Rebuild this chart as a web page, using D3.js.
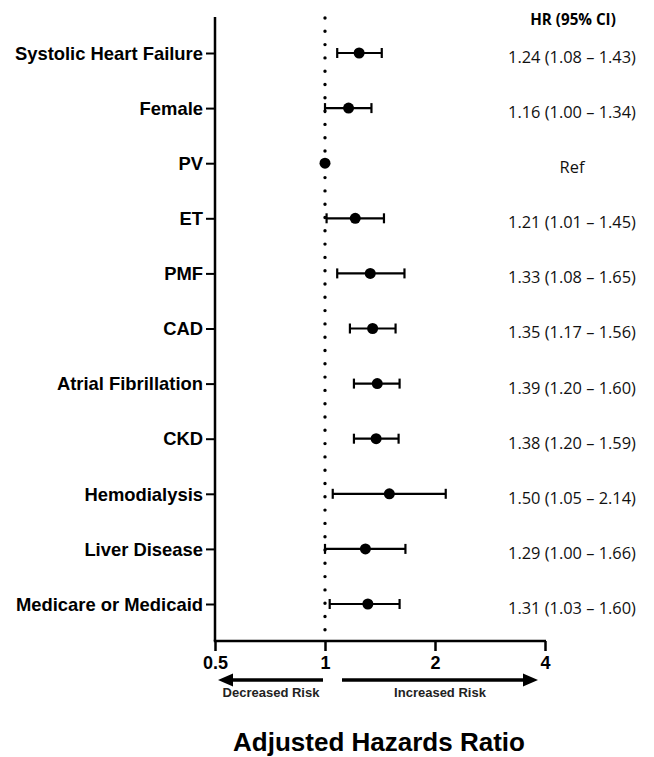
<!DOCTYPE html>
<html>
<head>
<meta charset="utf-8">
<script src="https://cdn.jsdelivr.net/npm/d3@7"></script>
<style>
  body { margin: 0; background: #fff; }
  svg { display: block; }
</style>
</head>
<body>
<div id="chart"></div>
<script>
// values
const categories = ["Systolic Heart Failure", "Female", "PV", "ET", "PMF", "CAD",
    "Atrial Fibrillation", "CKD", "Hemodialysis", "Liver Disease", "Medicare or Medicaid"]
const hr    = [1.24, 1.16, 1.00, 1.21, 1.33, 1.35, 1.39, 1.38, 1.50, 1.29, 1.31]
const lower = [1.08, 1.00, null, 1.01, 1.08, 1.17, 1.20, 1.20, 1.05, 1.00, 1.03]
const upper = [1.43, 1.34, null, 1.45, 1.65, 1.56, 1.60, 1.59, 2.14, 1.66, 1.60]
const hr_labels = ["1.24 (1.08 \u2013 1.43)", "1.16 (1.00 \u2013 1.34)", "Ref",
    "1.21 (1.01 \u2013 1.45)", "1.33 (1.08 \u2013 1.65)", "1.35 (1.17 \u2013 1.56)",
    "1.39 (1.20 \u2013 1.60)", "1.38 (1.20 \u2013 1.59)", "1.50 (1.05 \u2013 2.14)",
    "1.29 (1.00 \u2013 1.66)", "1.31 (1.03 \u2013 1.60)"]
const x_ticks = [0.5, 1, 2, 4]

const width = 654, height = 757
const axis_top = 17, axis_bottom = 641

const data = categories.map((c, i) => ({ cat: c, hr: hr[i], lo: lower[i], hi: upper[i], label: hr_labels[i] }))

const svg = d3.select('#chart')
    .append('svg')
    .attr('width', width)
    .attr('height', height)

const x = d3.scaleLog().base(2)
    .domain([0.5, 4])
    .range([215, 545])

const y = d3.scalePoint()
    .domain(categories)
    .range([53, 604])

// y axis
const yAxis = svg.append('g')
    .attr('transform', `translate(${x(0.5)},0)`)
    .call(d3.axisLeft(y).tickSize(9).tickPadding(3).tickSizeOuter(0))
yAxis.select('.domain').remove()
yAxis.selectAll('.tick line').attr('stroke', '#000').attr('stroke-width', 2)
yAxis.selectAll('.tick text')
    .attr('font-family', 'Liberation Sans, Arial, sans-serif')
    .attr('font-weight', 'bold')
    .attr('font-size', 18.4)
    .attr('fill', '#000')
    .attr('dy', '0.34em')
yAxis.append('line')
    .attr('x1', 0).attr('x2', 0)
    .attr('y1', axis_top).attr('y2', axis_bottom)
    .attr('stroke', '#000').attr('stroke-width', 2.5)

// x axis
const xAxis = svg.append('g')
    .attr('transform', `translate(0,${axis_bottom})`)
    .call(d3.axisBottom(x).tickValues(x_ticks).tickFormat(d3.format('')).tickSize(10).tickSizeOuter(0).tickPadding(5))
xAxis.select('.domain').attr('stroke', '#000').attr('stroke-width', 2.5)
    .attr('d', `M${x(0.5) - 1.25},0H${x(4) + 1}`)
xAxis.selectAll('.tick line').attr('stroke', '#000').attr('stroke-width', 2.5)
xAxis.selectAll('.tick text')
    .attr('font-family', 'Liberation Sans, Arial, sans-serif')
    .attr('font-weight', 'bold')
    .attr('font-size', 18)
    .attr('fill', '#000')

// dotted reference line at HR = 1
svg.append('line')
    .attr('x1', x(1)).attr('x2', x(1))
    .attr('y1', axis_top + 1).attr('y2', axis_bottom)
    .attr('stroke', '#000')
    .attr('stroke-width', 3.4)
    .attr('stroke-linecap', 'round')
    .attr('stroke-dasharray', '0 13.3')

// error bars
const bars = svg.append('g')
const withCI = data.filter(d => d.lo !== null)
bars.selectAll('line.ci')
    .data(withCI)
    .enter()
    .append('line')
    .attr('class', 'ci')
    .attr('x1', d => x(d.lo)).attr('x2', d => x(d.hi))
    .attr('y1', d => y(d.cat)).attr('y2', d => y(d.cat))
    .attr('stroke', '#000').attr('stroke-width', 2.2)
bars.selectAll('line.cap-lo')
    .data(withCI)
    .enter()
    .append('line')
    .attr('x1', d => x(d.lo)).attr('x2', d => x(d.lo))
    .attr('y1', d => y(d.cat) - 5).attr('y2', d => y(d.cat) + 5)
    .attr('stroke', '#000').attr('stroke-width', 2.2)
bars.selectAll('line.cap-hi')
    .data(withCI)
    .enter()
    .append('line')
    .attr('x1', d => x(d.hi)).attr('x2', d => x(d.hi))
    .attr('y1', d => y(d.cat) - 5).attr('y2', d => y(d.cat) + 5)
    .attr('stroke', '#000').attr('stroke-width', 2.2)

// point estimates
svg.append('g').selectAll('circle')
    .data(data)
    .enter()
    .append('circle')
    .attr('cx', d => x(d.hr))
    .attr('cy', d => y(d.cat))
    .attr('r', 5.5)
    .attr('fill', '#000')

// HR column
const col_x = 572
svg.append('text')
    .attr('x', col_x + 1).attr('y', 25)
    .attr('text-anchor', 'middle')
    .attr('font-family', 'Open Sans, sans-serif')
    .attr('font-weight', 'bold')
    .attr('font-size', 15.2)
    .text('HR (95% CI)')
svg.append('g').selectAll('text')
    .data(data)
    .enter()
    .append('text')
    .attr('x', col_x)
    .attr('y', d => y(d.cat) + 4)
    .attr('dy', '0.36em')
    .attr('text-anchor', 'middle')
    .attr('font-family', 'Open Sans, sans-serif')
    .attr('font-size', 16.4)
    .attr('fill', '#111')
    .text(d => d.label)

// risk arrows under the axis
const arrow_y = 680
const arrows = svg.append('g')
arrows.append('line')
    .attr('x1', x(1) - 2).attr('x2', x(0.5) + 14)
    .attr('y1', arrow_y).attr('y2', arrow_y)
    .attr('stroke', '#000').attr('stroke-width', 3.5)
arrows.append('path')
    .attr('d', `M${x(0.5) + 3},${arrow_y} l15,-6.5 v13 z`)
    .attr('fill', '#000')
arrows.append('line')
    .attr('x1', x(1) + 17).attr('x2', x(4) - 20)
    .attr('y1', arrow_y).attr('y2', arrow_y)
    .attr('stroke', '#000').attr('stroke-width', 3.5)
arrows.append('path')
    .attr('d', `M${x(4) - 7},${arrow_y} l-15,-6.5 v13 z`)
    .attr('fill', '#000')
arrows.append('text')
    .attr('x', (x(0.5) + x(1)) / 2 + 1).attr('y', 697)
    .attr('text-anchor', 'middle')
    .attr('font-family', 'Liberation Sans, Arial, sans-serif')
    .attr('font-weight', 'bold')
    .attr('font-size', 13)
    .attr('fill', '#222')
    .text('Decreased Risk')
arrows.append('text')
    .attr('x', 440).attr('y', 697)
    .attr('text-anchor', 'middle')
    .attr('font-family', 'Liberation Sans, Arial, sans-serif')
    .attr('font-weight', 'bold')
    .attr('font-size', 13)
    .attr('fill', '#222')
    .text('Increased Risk')

// axis title
svg.append('text')
    .attr('x', 379).attr('y', 751)
    .attr('text-anchor', 'middle')
    .attr('font-family', 'Liberation Sans, Arial, sans-serif')
    .attr('font-weight', 'bold')
    .attr('font-size', 26)
    .attr('fill', '#000')
    .text('Adjusted Hazards Ratio')
</script>
</body>
</html>
